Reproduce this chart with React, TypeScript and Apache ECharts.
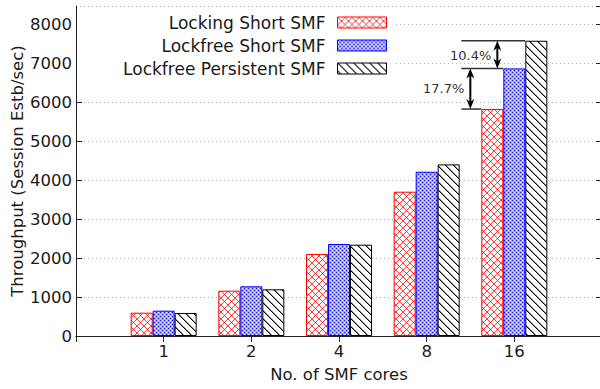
import React, { useEffect, useRef } from 'react';
import * as echarts from 'echarts';

const categories = ['1', '2', '4', '8', '16'];
const seriesNames = ['Locking Short SMF', 'Lockfree Short SMF', 'Lockfree Persistent SMF'];
const lockingShort = [598, 1163, 2104, 3703, 5825];
const lockfreeShort = [650, 1275, 2361, 4216, 6869];
const lockfreePersistent = [590, 1198, 2343, 4405, 7578];
const gainLabels = ['17.7%', '10.4%'];
const yMax = 8470;
const yInterval = 1000;

const FONT = 'DejaVu Sans';
const TEXT = '#1a1a1a';
const AXIS = '#222';

function tile(size: number, bg: string, pixels: (x: number, y: number) => string | null) {
  const c = document.createElement('canvas');
  c.width = size;
  c.height = size;
  const ctx = c.getContext('2d')!;
  ctx.fillStyle = bg;
  ctx.fillRect(0, 0, size, size);
  for (let y = 0; y < size; y++) {
    for (let x = 0; x < size; x++) {
      const col = pixels(x, y);
      if (col) {
        ctx.fillStyle = col;
        ctx.fillRect(x, y, 1, 1);
      }
    }
  }
  return { image: c.toDataURL(), repeat: 'repeat', imageWidth: size, imageHeight: size };
}

export default function App() {
  const ref = useRef<HTMLDivElement>(null);
  useEffect(() => {
    const el = ref.current!;
    const chart = echarts.init(el, null, { renderer: 'svg' });

    const redPat = tile(7, '#ffffff', (x, y) => {
      const a = (x - y + 7) % 7 === 0;
      const b = (x + y) % 7 === 0;
      if (a && b) return '#ff0000';
      if (a || b) return '#ff3c3c';
      return null;
    });
    const bluePat = tile(4, '#aaaaff', (x, y) => {
      if ((x === 0 && y === 0) || (x === 2 && y === 2)) return '#1010ff';
      if ((x === 2 && y === 0) || (x === 0 && y === 2)) return '#ffffff';
      if ((x + y) % 2 === 1) return '#9a9aff';
      return null;
    });
    const blackPat = tile(8, '#ffffff', (x, y) => {
      if (x === y) return '#000000';
      if (x === (y + 1) % 8) return '#909090';
      return null;
    });

    const values = [lockingShort, lockfreeShort, lockfreePersistent];
    const borders = ['#ff0000', '#0000ff', '#000000'];
    const pats = [redPat, bluePat, blackPat];
    const axisData = ['', ...categories, ''];

    const yLabel = (v: number) => (v % yInterval === 0 ? String(v) : '');

    chart.setOption({
      animation: false,
      backgroundColor: '#fff',
      textStyle: { fontFamily: FONT },
      grid: { left: 76, top: 6, right: -2, bottom: 53, containLabel: false, outerBoundsMode: 'none' },
      legend: {
        data: seriesNames,
        orient: 'vertical',
        right: 213,
        top: 14,
        padding: 0,
        align: 'right',
        icon: 'rect',
        itemWidth: 49,
        itemHeight: 11,
        itemGap: 6,
        selectedMode: false,
        itemStyle: { borderWidth: 1 },
        textStyle: { fontFamily: FONT, fontSize: 17, color: TEXT, lineHeight: 14, padding: [0, 7, 0, 0] },
      },
      xAxis: [
        {
          type: 'category',
          data: axisData,
          boundaryGap: false,
          position: 'bottom',
          name: 'No. of SMF cores',
          nameLocation: 'middle',
          nameGap: 30,
          nameMoveOverlap: false,
          nameTextStyle: { fontFamily: FONT, fontSize: 16.5, color: TEXT },
          axisLine: { show: true, lineStyle: { color: AXIS, width: 1 } },
          axisTick: { show: true, inside: true, length: 6, lineStyle: { color: AXIS } },
          axisLabel: { fontFamily: FONT, fontSize: 16.5, color: TEXT, margin: 7, interval: 0 },
          splitLine: { show: false },
        },
        {
          type: 'category',
          data: axisData,
          boundaryGap: false,
          position: 'top',
          axisLine: { show: true, lineStyle: { color: AXIS, width: 1 } },
          axisTick: { show: true, inside: true, length: 6, lineStyle: { color: AXIS } },
          axisLabel: { show: false },
          splitLine: { show: false },
        },
      ],
      yAxis: [
        {
          type: 'value',
          min: 0,
          max: yMax,
          interval: yInterval,
          position: 'left',
          name: 'Throughput (Session Estb/sec)',
          nameLocation: 'middle',
          nameGap: 50,
          nameMoveOverlap: false,
          nameTextStyle: { fontFamily: FONT, fontSize: 16.5, color: TEXT },
          axisLine: { show: true, lineStyle: { color: AXIS, width: 1 } },
          axisTick: { show: true, inside: true, length: 6, lineStyle: { color: AXIS } },
          axisLabel: { fontFamily: FONT, fontSize: 16.5, color: TEXT, margin: 4, formatter: yLabel, showMaxLabel: false },
          splitLine: { show: true, lineStyle: { color: '#b0b0b0', type: [1, 3], width: 1 } },
        },
        {
          type: 'value',
          min: 0,
          max: yMax,
          interval: yInterval,
          position: 'right',
          axisLine: { show: true, lineStyle: { color: AXIS, width: 1 } },
          axisTick: { show: true, inside: true, length: 6, lineStyle: { color: AXIS } },
          axisLabel: { show: false },
          splitLine: { show: false },
        },
      ],
      series: seriesNames.map((name, i) => ({
        name,
        type: 'bar',
        xAxisIndex: 0,
        yAxisIndex: 0,
        data: ['-', ...values[i], '-'],
        barWidth: 22,
        barGap: '0%',
        silent: true,
        itemStyle: { color: pats[i], borderColor: borders[i], borderWidth: 1 },
      })),
    });

    // Annotation geometry derived from the data through the axes
    const lastIdx = categories.length; // padded index of the last category
    const toPx = (v: number) => chart.convertToPixel({ xAxisIndex: 0, yAxisIndex: 0 }, [lastIdx, v]) as number[];
    const n = categories.length - 1;
    const c = toPx(0)[0];
    const yRed = toPx(lockingShort[n])[1];
    const yBlue = toPx(lockfreeShort[n])[1];
    const yBlack = toPx(lockfreePersistent[n])[1];
    const half = 11;
    const lineStart = c - 53;

    const hline = (x2: number, y: number) => ({
      type: 'line',
      z: 10,
      shape: { x1: lineStart, y1: y, x2, y2: y },
      style: { stroke: '#333', lineWidth: 1.5 },
    });
    const arrow = (x: number, y1: number, y2: number) => {
      const hl = 10;
      const hw = 4;
      return [
        { type: 'line', z: 11, shape: { x1: x, y1: y1 + 5, x2: x, y2: y2 - 5 }, style: { stroke: '#000', lineWidth: 2 } },
        { type: 'polygon', z: 11, shape: { points: [[x, y1], [x - hw, y1 + hl], [x, y1 + hl - 3], [x + hw, y1 + hl]] }, style: { fill: '#000' } },
        { type: 'polygon', z: 11, shape: { points: [[x, y2], [x - hw, y2 - hl], [x, y2 - hl + 3], [x + hw, y2 - hl]] }, style: { fill: '#000' } },
      ];
    };
    const label = (text: string, x: number, y: number) => ({
      type: 'text',
      z: 11,
      x,
      y,
      style: { text, fill: '#333', font: `13px "${FONT}"`, textAlign: 'right', textVerticalAlign: 'middle' },
    });

    chart.setOption({
      graphic: [
        { type: 'rect', z: 1, silent: true, shape: { x: 77, y: 13, width: 318, height: 59 }, style: { fill: '#fff' } },
        hline(c + half, yBlack),
        hline(c - half, yBlue),
        hline(c - 3 * half, yRed),
        ...arrow(c - 17, yBlack, yBlue),
        ...arrow(c - 44, yBlue, yRed),
        label(gainLabels[1], c - 23, (yBlack + yBlue) / 2 + 1),
        label(gainLabels[0], c - 50, (yBlue + yRed) / 2),
      ],
    });

    return () => chart.dispose();
  }, []);
  return <div ref={ref} style={{ position: 'absolute', left: 0, top: 0, width: 600, height: 389, background: '#fff' }} />;
}
